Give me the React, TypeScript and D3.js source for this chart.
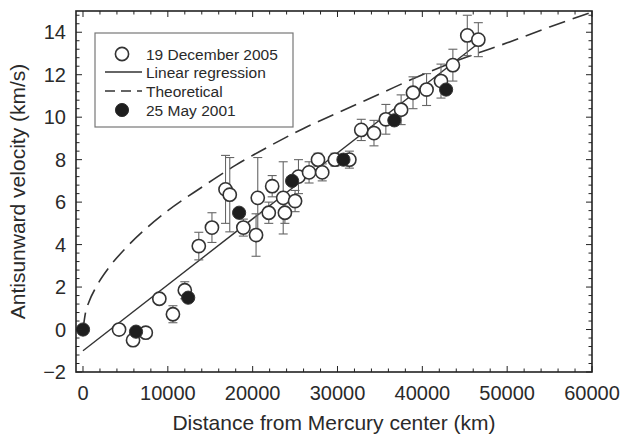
import React from "react";
import * as d3 from "d3";

// ---- data ----
// 19 December 2005 (open circles): distance (km), velocity (km/s), error half-length
const decDist = [4250, 5900, 7400, 9000, 10600, 12000, 13650, 15200, 16800, 17300, 18900, 20400, 20600, 21900, 22300, 23600, 23800, 25000, 25400, 26650, 27700, 28200, 29700, 31400, 32800, 34300, 35700, 37500, 38900, 40500, 42200, 43600, 45300, 46600];
const decVel = [0.0, -0.5, -0.15, 1.45, 0.72, 1.85, 3.93, 4.8, 6.6, 6.35, 4.8, 4.45, 6.2, 5.5, 6.75, 6.2, 5.5, 6.05, 7.2, 7.4, 8.0, 7.4, 8.0, 8.0, 9.4, 9.25, 9.9, 10.35, 11.15, 11.3, 11.7, 12.45, 13.85, 13.65];
const decErr = [0, 0, 0, 0, 0.4, 0.4, 0.65, 0.7, 1.6, 1.75, 0.4, 1.0, 1.9, 0.5, 0.5, 1.7, 0.5, 0.5, 0.8, 0.5, 0.3, 0.4, 0.3, 0.4, 0.5, 0.6, 0.7, 0.7, 0.75, 0.75, 0.8, 0.75, 0.95, 0.8];

// 25 May 2001 (filled circles)
const mayDist = [0, 6250, 12400, 18400, 24650, 30700, 36700, 42800];
const mayVel = [0.0, -0.1, 1.5, 5.5, 7.0, 8.0, 9.85, 11.3];

// Linear regression (end points)
const regDist = [0, 47000];
const regVel = [-1.0, 13.6];

// Theoretical curve (read points)
const theoDist = [0, 300, 700, 1500, 3000, 5000, 7500, 10000, 14000, 18000, 22000, 26000, 30000, 35000, 40000, 45000, 50000, 55000, 60000];
const theoVel = [0, 0.8, 1.3, 1.97, 2.89, 3.82, 4.78, 5.6, 6.7, 7.74, 8.64, 9.47, 10.2, 11.1, 12.0, 12.8, 13.5, 14.25, 14.95];

const xTicks = [0, 10000, 20000, 30000, 40000, 50000, 60000];
const yTicks = [-2, 0, 2, 4, 6, 8, 10, 12, 14];

const legendLabels = ["19 December 2005", "Linear regression", "Theoretical", "25 May 2001"];

const W = 623;
const H = 434;
const L = 76, R = 592, T = 11, B = 372;

export default function App() {
  const x = d3.scaleLinear().domain([-825, 60000]).range([L, R]);
  const y = d3.scaleLinear().domain([-2, 15]).range([B, T]);

  const xMinor = d3.range(0, 60001, 2000);
  const yMinor = d3.range(-2, 15.01, 0.4);

  const line = d3
    .line<[number, number]>()
    .x((d) => x(d[0]))
    .y((d) => y(d[1]))
    .curve(d3.curveMonotoneX);

  const theo: [number, number][] = theoDist.map((d, i) => [d, theoVel[i]]);
  const reg: [number, number][] = regDist.map((d, i) => [d, regVel[i]]);

  const axisColor = "#222";
  const textColor = "#2a2a2a";
  const font = "'Liberation Sans', Arial, Helvetica, sans-serif";
  const r = 6.6;

  return (
    <svg
      width={W}
      height={H}
      style={{ position: "absolute", left: 0, top: 0, background: "#fff" }}
      fontFamily={font}
    >
      <rect x={0} y={0} width={W} height={H} fill="#fff" />

      {/* theoretical dashed curve */}
      <path d={line(theo) || ""} fill="none" stroke="#333" strokeWidth={1.6} strokeDasharray="17,8" />
      {/* linear regression */}
      <path d={d3.line<[number, number]>().x((d) => x(d[0])).y((d) => y(d[1]))(reg) || ""} fill="none" stroke="#333" strokeWidth={1.4} />

      {/* error bars */}
      <g stroke="#666" strokeWidth={1.1}>
        {decDist.map((d, i) =>
          decErr[i] > 0 ? (
            <g key={i}>
              <line x1={x(d)} x2={x(d)} y1={y(decVel[i] - decErr[i])} y2={y(decVel[i] + decErr[i])} />
              <line x1={x(d) - 4.5} x2={x(d) + 4.5} y1={y(decVel[i] + decErr[i])} y2={y(decVel[i] + decErr[i])} />
              <line x1={x(d) - 4.5} x2={x(d) + 4.5} y1={y(decVel[i] - decErr[i])} y2={y(decVel[i] - decErr[i])} />
            </g>
          ) : null
        )}
      </g>

      {/* open circles */}
      <g fill="#fff" stroke="#333" strokeWidth={1.6}>
        {decDist.map((d, i) => (
          <circle key={i} cx={x(d)} cy={y(decVel[i])} r={r} />
        ))}
      </g>
      {/* filled circles */}
      <g fill="#1e1e1e" stroke="#333" strokeWidth={1}>
        {mayDist.map((d, i) => (
          <circle key={i} cx={x(d)} cy={y(mayVel[i])} r={r} />
        ))}
      </g>

      {/* frame */}
      <rect x={L} y={T} width={R - L} height={B - T} fill="none" stroke={axisColor} strokeWidth={1.6} />

      {/* ticks x */}
      <g stroke={axisColor} strokeWidth={1}>
        {xMinor.map((v) => {
          const major = v % 10000 === 0;
          const len = major ? 6 : 3.5;
          return (
            <g key={v}>
              <line x1={x(v)} x2={x(v)} y1={B} y2={B - len} />
              <line x1={x(v)} x2={x(v)} y1={T} y2={T + len} />
            </g>
          );
        })}
        {yMinor.map((v) => {
          const major = Math.abs(Math.round(v) - v) < 1e-6 && Math.round(v) % 2 === 0;
          const len = major ? 6 : 3.5;
          return (
            <g key={v.toFixed(2)}>
              <line x1={L} x2={L + len} y1={y(v)} y2={y(v)} />
              <line x1={R} x2={R - len} y1={y(v)} y2={y(v)} />
            </g>
          );
        })}
      </g>

      {/* tick labels */}
      <g fill={textColor} fontSize={20}>
        {xTicks.map((v) => (
          <text key={v} x={x(v)} y={400} textAnchor="middle">
            {String(v)}
          </text>
        ))}
        {yTicks.map((v) => (
          <text key={v} x={66} y={y(v)} dy="0.35em" textAnchor="end">
            {v < 0 ? "\u2212" + Math.abs(v) : String(v)}
          </text>
        ))}
      </g>

      {/* axis titles */}
      <text x={(L + R) / 2} y={430} textAnchor="middle" fontSize={21} fill={textColor}>
        Distance from Mercury center (km)
      </text>
      <text
        transform={`translate(25,${(T + B) / 2}) rotate(-90)`}
        textAnchor="middle"
        fontSize={21}
        fill={textColor}
      >
        Antisunward velocity (km/s)
      </text>

      {/* legend */}
      <g>
        <rect x={95} y={33} width={198} height={94} fill="#fff" stroke="#777" strokeWidth={1.2} />
        <circle cx={122} cy={54} r={r} fill="#fff" stroke="#333" strokeWidth={1.6} />
        <line x1={105} x2={142} y1={72} y2={72} stroke="#333" strokeWidth={1.4} />
        <line x1={105} x2={142} y1={91} y2={91} stroke="#333" strokeWidth={1.4} strokeDasharray="10,6" />
        <circle cx={122} cy={110} r={r} fill="#1e1e1e" stroke="#333" strokeWidth={1} />
        <g fill={textColor} fontSize={15.5}>
          {legendLabels.map((t, i) => (
            <text key={t} x={146} y={54 + i * 18.7} dy="0.36em">
              {t}
            </text>
          ))}
        </g>
      </g>
    </svg>
  );
}
